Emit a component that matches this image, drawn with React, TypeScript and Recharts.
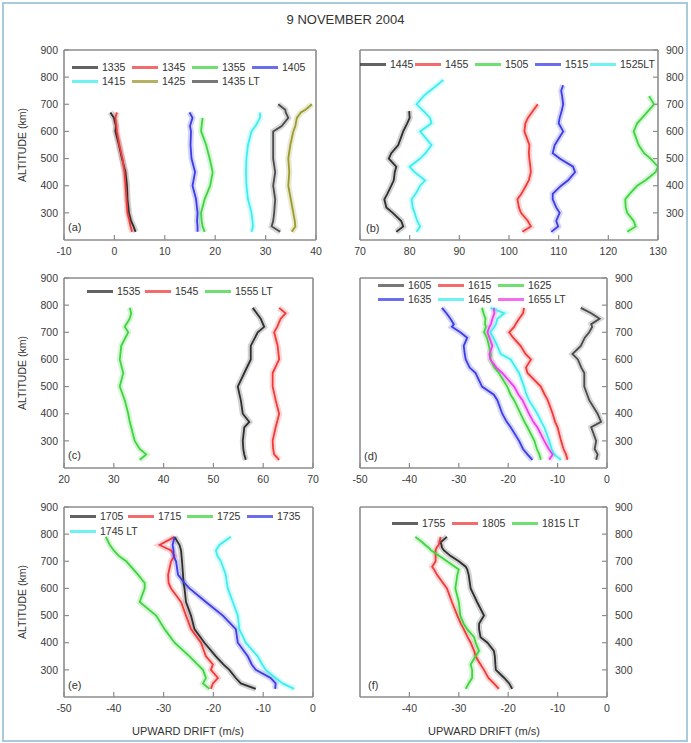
import React from "react";
import { LineChart, Line, XAxis, YAxis } from "recharts";

// ---- colours used by the series
const BLACK = "#2e2e2e";
const GRAY = "#4a4a4a";
const RED = "#f03a3a";
const GREEN = "#3fd43f";
const BLUE = "#3b3be8";
const CYAN = "#3eeeee";
const OLIVE = "#9c9a2c";
const MAGENTA = "#ee3cee";

const FRAME = "#8c8c8c";
const FONT = "'Liberation Sans', Arial, sans-serif";

// ---- (a) 1335 - 1435 LT
const ALT_A = [230, 250, 270, 300, 350, 400, 450, 500, 550, 600, 620, 650, 670, 680, 700];
const A_1335 = [4.2, 3.8, 3.3, 2.9, 2.6, 2.5, 2.2, 1.5, 0.9, 0.2, 0.3, -0.1, -0.8, null, null];
const A_1345 = [3.5, 3.2, 3.0, 2.6, 2.4, 2.2, 2.0, 1.6, 1.0, 0.5, 0.4, 0.2, 0.5, null, null];
const A_1355 = [17.9, 17.5, 17.3, 17.2, 17.9, 19.0, 19.5, 18.9, 18.2, 17.2, 17.3, 17.5, null, null, null];
const A_1405 = [16.5, 16.5, 16.4, 16.5, 16.2, 15.5, 16.0, 15.3, 15.1, 15.2, 15.0, 15.5, 14.9, null, null];
const A_1415 = [27.2, 27.5, 27.4, 27.2, 26.5, 26.2, 26.1, 26.2, 26.5, 27.2, 28.0, 28.9, 28.9, null, null];
const A_1425 = [35.2, 35.9, 35.8, 35.5, 35.0, 34.5, 34.7, 34.5, 34.9, 35.5, 35.9, 36.2, 37.0, 37.9, 39.2];
const A_1435 = [32.9, 31.2, 31.5, 31.7, 31.9, 31.5, 31.9, 31.5, 31.5, 31.5, 33.2, 34.5, 34.0, 33.9, 32.5];

// ---- (b) 1445 - 1525 LT
const ALT_B = [230, 250, 270, 300, 320, 350, 370, 400, 420, 450, 470, 500, 520, 550, 600, 630, 650, 675, 700, 730, 750, 770, 790];
const B_1445 = [77.3, 78.7, 78.3, 76.6, 75.3, 74.9, 75.5, 76.3, 76.8, 77.0, 77.3, 75.8, 76.3, 77.7, 78.7, 79.5, 80.0, 79.9, null, null, null, null, null];
const B_1455 = [102.7, 104.4, 103.8, 102.4, 102.0, 101.7, 102.5, 103.4, 104.0, 104.4, 104.3, 104.1, 104.0, 104.1, 103.1, 103.3, 103.8, 104.8, 105.8, null, null, null, null];
const B_1505 = [123.8, 125.5, 125.1, 123.8, 123.5, 123.4, 124.3, 125.8, 127.5, 129.5, 130.0, 128.5, 127.2, 126.1, 125.1, 125.8, 126.8, 128.0, 129.2, 128.2, null, null, null];
const B_1515 = [108.5, 109.9, 109.5, 110.2, 109.5, 108.8, 108.8, 110.5, 111.9, 113.3, 112.9, 110.2, 108.8, 109.2, 110.9, 110.0, 110.2, 110.6, 110.9, 110.7, 110.5, 110.9, null];
const B_1525 = [81.4, 82.1, 81.5, 81.0, 80.6, 80.4, 81.2, 82.1, 83.1, 81.0, 80.0, 82.1, 83.2, 84.4, 82.1, 84.4, 84.1, 82.8, 81.4, 82.8, 84.1, 85.5, 86.8];

// ---- (c) 1535 - 1555 LT
const ALT_C = [230, 250, 270, 300, 350, 370, 400, 450, 500, 550, 600, 650, 700, 720, 750, 770, 790];
const C_1535 = [56.5, 56.2, 56.0, 55.9, 56.2, 57.2, 55.9, 55.5, 54.9, 56.2, 57.5, 57.5, 58.9, 60.2, 59.5, 58.7, 57.9];
const C_1545 = [63.2, 62.2, 62.0, 61.9, 62.5, 62.8, 63.2, 62.5, 61.9, 61.9, 63.2, 62.9, 62.2, 62.8, 63.5, 64.5, 63.2];
const C_1555 = [35.2, 36.5, 35.2, 34.2, 33.5, 33.2, 32.9, 32.2, 31.2, 31.9, 31.2, 31.5, 32.9, 32.2, 33.2, 33.5, 33.2];

// ---- (d) 1605 - 1655 LT
const ALT_D = [230, 250, 270, 300, 350, 370, 400, 450, 470, 500, 550, 570, 600, 620, 650, 680, 700, 720, 730, 750, 770, 790];
const D_1605 = [-2.2, -1.9, -2.5, -2.2, -3.2, -1.2, -1.9, -3.6, -4.0, -4.6, -4.6, -5.2, -5.9, -7.0, -5.3, -4.5, -3.6, -3.0, -3.2, -1.5, -3.2, -5.3];
const D_1615 = [-8.0, -8.3, -8.8, -9.3, -10.0, -10.5, -11.0, -12.0, -12.6, -13.4, -16.1, -16.4, -15.4, -16.5, -17.5, -19.0, -19.8, -18.8, -18.5, -17.8, -17.0, -16.8];
const D_1625 = [-13.4, -13.7, -14.2, -14.7, -16.1, -16.7, -17.5, -18.8, -19.5, -20.2, -21.9, -22.8, -23.6, -23.5, -23.9, -24.3, -24.9, -24.5, -24.7, -24.6, -25.0, -25.3];
const D_1635 = [-15.1, -16.1, -17.0, -17.8, -19.5, -20.3, -21.2, -22.2, -22.9, -25.3, -26.6, -27.8, -28.6, -28.8, -29.0, -28.3, -29.7, -31.4, -31.0, -31.7, -32.5, -33.4];
const D_1645 = [-9.3, -10.7, -11.2, -11.7, -12.7, -13.3, -14.1, -15.8, -16.3, -16.8, -17.8, -18.5, -19.5, -21.5, -22.2, -23.0, -23.6, -22.8, -22.5, -22.2, -20.8, -23.6];
const D_1655 = [-11.7, -11.0, -11.8, -12.7, -14.1, -14.9, -15.8, -17.1, -17.9, -18.8, -21.2, -22.4, -23.6, -23.8, -23.2, -23.8, -24.2, -23.8, -23.5, -23.2, -22.8, -22.9];

// ---- (e) 1705 - 1745 LT
const ALT_E = [230, 250, 270, 300, 320, 350, 400, 450, 500, 550, 600, 620, 650, 700, 720, 740, 760, 790];
const E_1705 = [-11.5, -14.5, -15.5, -16.8, -18.0, -19.5, -21.8, -23.8, -24.5, -25.5, -25.8, -26.0, -26.1, -26.3, -26.4, -26.5, -26.8, -27.8];
const E_1715 = [-20.5, -20.1, -19.1, -20.5, -20.1, -21.5, -22.5, -24.5, -25.5, -26.5, -28.5, -29.0, -29.1, -28.5, -27.8, -28.5, -30.8, -27.8];
const E_1725 = [-20.8, -22.1, -21.5, -22.1, -23.2, -24.8, -27.8, -29.8, -31.5, -34.8, -33.8, -33.8, -35.1, -37.5, -39.0, -40.0, -40.8, -41.6];
const E_1735 = [-7.6, -7.5, -8.5, -11.5, -12.3, -13.1, -15.1, -15.5, -18.1, -21.5, -24.8, -25.8, -27.1, -27.5, -28.0, -28.0, -28.2, -27.8];
const E_1745 = [-3.8, -6.1, -7.5, -9.5, -10.2, -11.1, -13.5, -14.8, -15.1, -16.1, -17.1, -17.3, -17.5, -18.5, -19.2, -19.5, -18.8, -16.5];

// ---- (f) 1755 - 1815 LT
const ALT_F = [230, 250, 270, 300, 320, 350, 370, 400, 420, 450, 470, 500, 550, 600, 650, 670, 680, 700, 720, 740, 750, 760, 770, 790];
const F_1755 = [-19.2, -19.8, -20.8, -22.5, -22.6, -22.7, -22.9, -24.2, -25.6, -25.9, -25.9, -24.9, -26.3, -27.6, -28.0, -28.3, -28.6, -30.0, -31.7, -33.0, -33.4, -33.5, -33.7, -32.4];
const F_1805 = [-21.9, -22.9, -24.0, -24.9, -25.6, -26.6, -26.9, -27.6, -28.2, -29.0, -29.6, -30.3, -31.4, -32.4, -34.4, -35.0, -35.4, -34.7, -34.7, -34.7, -34.5, -34.1, -33.9, -33.7];
const F_1815 = [-28.6, -28.0, -27.3, -27.3, -27.6, -26.6, -25.9, -26.6, -26.9, -28.3, -29.0, -29.7, -30.0, -30.7, -30.3, -30.0, -30.8, -32.4, -34.0, -35.6, -36.1, -36.8, -37.4, -38.8];

const ALT_TICKS = [300, 400, 500, 600, 700, 800, 900];

type Series = { name: string; color: string; values: (number | null)[] };
type LegendItem = { s: number; x: number; y: number };

type Panel = {
  label: string;
  left: number;
  top: number;
  width: number;
  height: number;
  side: "left" | "right";
  axisW: number;
  margin: { top: number; right: number; bottom: number; left: number };
  xDomain: [number, number];
  xTicks: number[];
  alts: number[];
  series: Series[];
  legend: LegendItem[];
  labelPos: [number, number];
};

// margins leave 1px for the mirrored (label-less) top and side axes
const panels: Panel[] = [
  {
    label: "(a)",
    left: 0, top: 40, width: 330, height: 230, side: "left", axisW: 64,
    margin: { top: 9, right: 13, bottom: 0, left: 0 },
    xDomain: [-10, 40], xTicks: [-10, 0, 10, 20, 30, 40],
    alts: ALT_A,
    series: [
      { name: "1335", color: BLACK, values: A_1335 },
      { name: "1345", color: RED, values: A_1345 },
      { name: "1355", color: GREEN, values: A_1355 },
      { name: "1405", color: BLUE, values: A_1405 },
      { name: "1415", color: CYAN, values: A_1415 },
      { name: "1425", color: OLIVE, values: A_1425 },
      { name: "1435 LT", color: GRAY, values: A_1435 },
    ],
    legend: [
      { s: 0, x: 72, y: 67 }, { s: 1, x: 132, y: 67 }, { s: 2, x: 192, y: 67 }, { s: 3, x: 252, y: 67 },
      { s: 4, x: 72, y: 81 }, { s: 5, x: 132, y: 81 }, { s: 6, x: 192, y: 81 },
    ],
    labelPos: [68, 227],
  },
  {
    label: "(b)",
    left: 340, top: 40, width: 351, height: 230, side: "right", axisW: 33,
    margin: { top: 9, right: 0, bottom: 0, left: 19 },
    xDomain: [70, 130], xTicks: [70, 80, 90, 100, 110, 120, 130],
    alts: ALT_B,
    series: [
      { name: "1445", color: BLACK, values: B_1445 },
      { name: "1455", color: RED, values: B_1455 },
      { name: "1505", color: GREEN, values: B_1505 },
      { name: "1515", color: BLUE, values: B_1515 },
      { name: "1525LT", color: CYAN, values: B_1525 },
    ],
    legend: [
      { s: 0, x: 360, y: 64 }, { s: 1, x: 415, y: 64 }, { s: 2, x: 475, y: 64 }, { s: 3, x: 535, y: 64 }, { s: 4, x: 590, y: 64 },
    ],
    labelPos: [366, 228],
  },
  {
    label: "(c)",
    left: 0, top: 268, width: 330, height: 230, side: "left", axisW: 64,
    margin: { top: 9, right: 16, bottom: 0, left: 0 },
    xDomain: [20, 70], xTicks: [20, 30, 40, 50, 60, 70],
    alts: ALT_C,
    series: [
      { name: "1535", color: BLACK, values: C_1535 },
      { name: "1545", color: RED, values: C_1545 },
      { name: "1555 LT", color: GREEN, values: C_1555 },
    ],
    legend: [{ s: 0, x: 87, y: 291 }, { s: 1, x: 145, y: 291 }, { s: 2, x: 205, y: 291 }],
    labelPos: [68, 455],
  },
  {
    label: "(d)",
    left: 340, top: 268, width: 310, height: 230, side: "right", axisW: 43,
    margin: { top: 9, right: 0, bottom: 0, left: 19 },
    xDomain: [-50, 0], xTicks: [-50, -40, -30, -20, -10, 0],
    alts: ALT_D,
    series: [
      { name: "1605", color: GRAY, values: D_1605 },
      { name: "1615", color: RED, values: D_1615 },
      { name: "1625", color: GREEN, values: D_1625 },
      { name: "1635", color: BLUE, values: D_1635 },
      { name: "1645", color: CYAN, values: D_1645 },
      { name: "1655 LT", color: MAGENTA, values: D_1655 },
    ],
    legend: [
      { s: 0, x: 378, y: 285 }, { s: 1, x: 438, y: 285 }, { s: 2, x: 498, y: 285 },
      { s: 3, x: 378, y: 299 }, { s: 4, x: 438, y: 299 }, { s: 5, x: 498, y: 299 },
    ],
    labelPos: [364, 456],
  },
  {
    label: "(e)",
    left: 0, top: 497, width: 330, height: 246, side: "left", axisW: 64,
    margin: { top: 9, right: 16, bottom: 16, left: 0 },
    xDomain: [-50, 0], xTicks: [-50, -40, -30, -20, -10, 0],
    alts: ALT_E,
    series: [
      { name: "1705", color: BLACK, values: E_1705 },
      { name: "1715", color: RED, values: E_1715 },
      { name: "1725", color: GREEN, values: E_1725 },
      { name: "1735", color: BLUE, values: E_1735 },
      { name: "1745 LT", color: CYAN, values: E_1745 },
    ],
    legend: [
      { s: 0, x: 70, y: 516 }, { s: 1, x: 128, y: 516 }, { s: 2, x: 187, y: 516 }, { s: 3, x: 247, y: 516 },
      { s: 4, x: 70, y: 531 },
    ],
    labelPos: [68, 685],
  },
  {
    label: "(f)",
    left: 340, top: 497, width: 310, height: 246, side: "right", axisW: 43,
    margin: { top: 9, right: 0, bottom: 16, left: 19 },
    xDomain: [-50, 0], xTicks: [-40, -30, -20, -10, 0],
    alts: ALT_F,
    series: [
      { name: "1755", color: BLACK, values: F_1755 },
      { name: "1805", color: RED, values: F_1805 },
      { name: "1815 LT", color: GREEN, values: F_1815 },
    ],
    legend: [{ s: 0, x: 392, y: 523 }, { s: 1, x: 452, y: 523 }, { s: 2, x: 512, y: 523 }],
    labelPos: [368, 685],
  },
];

const tickFont = { fill: "#3a3a3a", fontSize: 10.5, fontFamily: FONT };

function ProfilePanel({ p }: { p: Panel }) {
  const rows = p.alts.map((alt, i) => {
    const r: Record<string, number | null> = { alt };
    p.series.forEach((s, k) => (r["s" + k] = s.values[i]));
    return r;
  });
  const axisLine = { stroke: FRAME, strokeWidth: 1.6 };
  const tickLine = { stroke: FRAME, strokeWidth: 1.2 };
  const other = p.side === "left" ? "right" : "left";

  return (
    <div style={{ position: "absolute", left: p.left, top: p.top }}>
      <LineChart width={p.width} height={p.height} data={rows} layout="vertical" margin={p.margin}>
        <XAxis
          type="number" domain={p.xDomain} ticks={p.xTicks} interval={0} allowDataOverflow
          height={30} tickSize={-5} tickMargin={13} axisLine={axisLine} tickLine={tickLine} tick={tickFont}
        />
        <XAxis
          xAxisId="top" orientation="top" type="number" domain={p.xDomain} ticks={p.xTicks} interval={0}
          allowDataOverflow height={1} tickSize={-5} axisLine={axisLine} tickLine={tickLine} tick={false}
        />
        <YAxis
          type="number" dataKey="alt" domain={[200, 900]} ticks={ALT_TICKS} interval={0} allowDataOverflow reversed
          orientation={p.side} width={p.axisW} tickSize={-5} tickMargin={p.side === "left" ? 11 : 13}
          axisLine={axisLine} tickLine={tickLine} tick={tickFont}
        />
        <YAxis
          yAxisId="other" type="number" dataKey="alt" domain={[200, 900]} ticks={ALT_TICKS} interval={0}
          allowDataOverflow reversed orientation={other} width={1} tickSize={-5} axisLine={axisLine}
          tickLine={tickLine} tick={false}
        />
        {/* faint wide copies stand in for the scatter of the individual estimates */}
        {p.series.map((s, k) => (
          <Line
            key={"h" + k} xAxisId="top" yAxisId="other" dataKey={"s" + k} stroke={s.color} strokeWidth={6}
            strokeOpacity={0.22} dot={false} isAnimationActive={false} legendType="none"
          />
        ))}
        {p.series.map((s, k) => (
          <Line
            key={"m" + k} dataKey={"s" + k} name={s.name} stroke={s.color} strokeWidth={1.8}
            dot={false} isAnimationActive={false}
          />
        ))}
      </LineChart>
    </div>
  );
}

function Overlay({ p }: { p: Panel }) {
  return (
    <>
      {p.legend.map((it, i) => {
        const s = p.series[it.s];
        return (
          <div
            key={i}
            style={{
              position: "absolute", left: it.x, top: it.y - 7, height: 14, display: "flex",
              alignItems: "center", fontSize: 10.5, color: "#333", fontFamily: FONT, whiteSpace: "nowrap",
            }}
          >
            <span style={{ display: "inline-block", width: 26, height: 3, background: s.color, opacity: 0.75, marginRight: 4 }} />
            {s.name}
          </div>
        );
      })}
      <div
        style={{
          position: "absolute", left: p.labelPos[0], top: p.labelPos[1] - 7, fontSize: 11,
          color: "#333", fontFamily: FONT, lineHeight: "14px",
        }}
      >
        {p.label}
      </div>
    </>
  );
}

export default function App() {
  return (
    <div
      style={{
        position: "absolute", left: 0, top: 0, width: 691, height: 743, background: "#fff", overflow: "hidden",
      }}
    >
      <div
        style={{
          position: "absolute", left: 2, top: 2, width: 682, height: 736, border: "2px solid #a9cadd",
        }}
      />
      <div
        style={{
          position: "absolute", left: 0, width: 691, top: 12, textAlign: "center", fontSize: 13,
          fontFamily: FONT, color: "#333", lineHeight: "16px",
        }}
      >
        9 NOVEMBER 2004
      </div>
      {panels.map((p) => (
        <ProfilePanel key={p.label} p={p} />
      ))}
      {panels.map((p) => (
        <Overlay key={p.label} p={p} />
      ))}
      {[145, 373, 602].map((cy) => (
        <div
          key={cy}
          style={{
            position: "absolute", left: 22 - 50, top: cy - 7, width: 100, textAlign: "center",
            transform: "rotate(-90deg)", fontSize: 10.5, fontFamily: FONT, color: "#333", lineHeight: "14px",
          }}
        >
          ALTITUDE (km)
        </div>
      ))}
      {[188, 484].map((cx) => (
        <div
          key={cx}
          style={{
            position: "absolute", left: cx - 80, top: 724, width: 160, textAlign: "center", fontSize: 11,
            fontFamily: FONT, color: "#333", lineHeight: "14px",
          }}
        >
          UPWARD DRIFT (m/s)
        </div>
      ))}
    </div>
  );
}
